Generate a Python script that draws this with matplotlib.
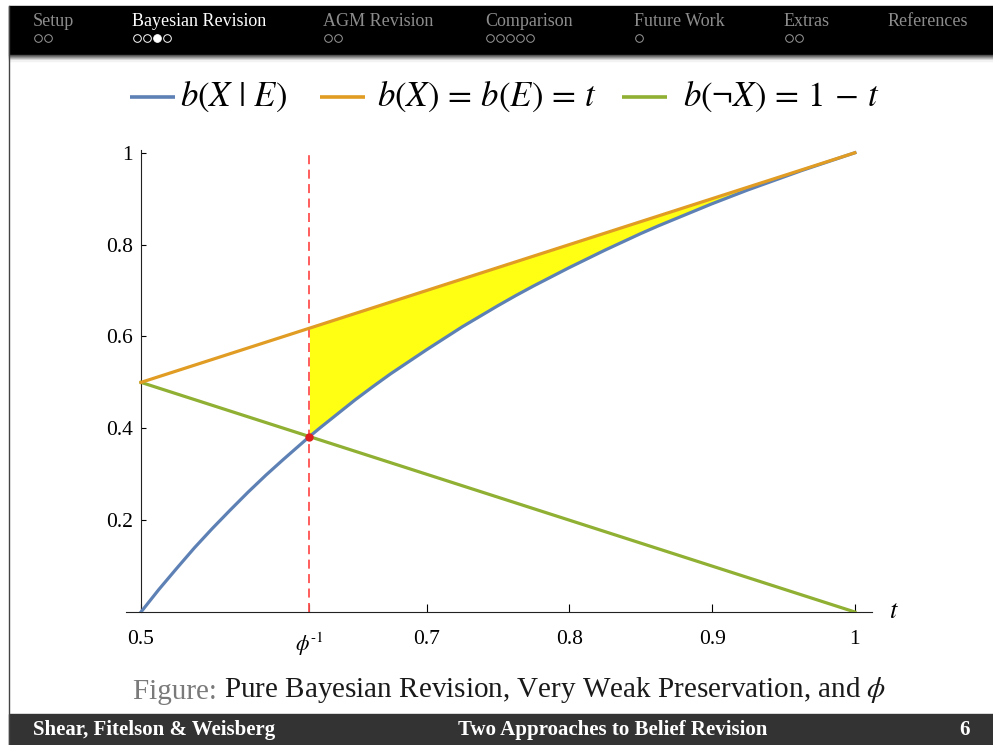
import numpy as np
import matplotlib.pyplot as plt
from matplotlib.patches import Rectangle

plt.rcParams['mathtext.fontset'] = 'stix'
plt.rcParams['font.family'] = ['Liberation Serif', 'DejaVu Serif']

# values
t_vals = [0.5, 0.5125, 0.525, 0.5375, 0.55, 0.5625, 0.575, 0.5875, 0.6, 0.618, 0.625,
          0.6375, 0.65, 0.6625, 0.675, 0.6875, 0.7, 0.7125, 0.725, 0.7375, 0.75, 0.7625,
          0.775, 0.7875, 0.8, 0.8125, 0.825, 0.8375, 0.85, 0.8625, 0.875, 0.8875, 0.9,
          0.9125, 0.925, 0.9375, 0.95, 0.9625, 0.975, 0.9875, 1.0]
b_x_given_e = [0.0, 0.049, 0.095, 0.14, 0.182, 0.222, 0.261, 0.298, 0.333, 0.382, 0.4,
               0.431, 0.462, 0.491, 0.519, 0.545, 0.571, 0.596, 0.621, 0.644, 0.667, 0.689,
               0.71, 0.73, 0.75, 0.769, 0.788, 0.806, 0.824, 0.841, 0.857, 0.873, 0.889,
               0.904, 0.919, 0.933, 0.947, 0.961, 0.974, 0.987, 1.0]
b_x = t_vals  # b(X) = b(E) = t
b_not_x = [0.5, 0.0]
line_t = [0.5, 1.0]
phi_inv = 0.618
phi_point = 0.382

x_ticks = [0.5, 0.618, 0.7, 0.8, 0.9, 1.0]
x_tick_labels = ['0.5', r'$\phi^{\text{-1}}$', '0.7', '0.8', '0.9', '1']
y_ticks = [0.2, 0.4, 0.6, 0.8, 1.0]
y_tick_labels = ['0.2', '0.4', '0.6', '0.8', '1']

legend_labels = [r'$b(X\ |\ E)$', r'$b(X)\,=\,b(E)\,=\,t$', r'$b(\neg X)\,=\,1\,-\,t$']
sections = ['Setup', 'Bayesian Revision', 'AGM Revision', 'Comparison',
            'Future Work', 'Extras', 'References']
section_dots = [2, 4, 2, 5, 1, 2, 0]

blue = '#5E81B5'
orange = '#E19C24'
green = '#8FB032'

W, H = 993, 745
fig = plt.figure(figsize=(W / 100, H / 100), dpi=100)

# slide decorations in pixel coords
deco = fig.add_axes([0, 0, 1, 1], zorder=0)
deco.set_xlim(0, W)
deco.set_ylim(H, 0)
deco.axis('off')
deco.add_patch(Rectangle((9, 6), W - 9, 49, color='black'))
for i, g in enumerate(np.linspace(0.3, 0.95, 6)):
    deco.add_patch(Rectangle((9, 55 + i), W - 9, 1, color=str(g)))
deco.add_patch(Rectangle((9, 714), W - 9, 31, color='#333333'))
deco.plot([8.5, 8.5], [6, H], color='#444444', lw=1)

sec_x = [33, 132, 323, 485, 634, 784, 888]
for i, (name, nd) in enumerate(zip(sections, section_dots)):
    active = name == 'Bayesian Revision'
    col = 'white' if active else '#8c8c8c'
    deco.text(sec_x[i], 21, name, color=col, fontsize=13, va='center', ha='left')
    for k in range(nd):
        filled = active and k == 2
        deco.plot(sec_x[i] + 5 + 10 * k, 38, 'o', ms=5.5, mfc='white' if filled else 'none',
                  mec='white' if active else '#9a9a9a', mew=0.7)

deco.text(33, 730, 'Shear, Fitelson & Weisberg', color='white', fontsize=15,
          fontweight='bold', va='center')
deco.text(613, 730, 'Two Approaches to Belief Revision', color='white', fontsize=15,
          fontweight='bold', va='center', ha='center')
deco.text(965, 730, '6', color='white', fontsize=15, fontweight='bold', va='center', ha='center')

cap = deco.text(133, 692, 'Figure: ', color='#7a7a7a', fontsize=21, va='center')
deco.annotate(r'Pure Bayesian Revision, Very Weak Preservation, and $\phi$',
              xycoords=cap, xy=(1, 0), va='bottom', ha='left', color='#1a1a1a', fontsize=21)

# legend laid out like the Mathematica one
leg_line_x = [130, 320, 622]
leg_text_x = [180, 377, 683]
for lx, tx, c, lab in zip(leg_line_x, leg_text_x, [blue, orange, green], legend_labels):
    deco.plot([lx, lx + 45], [97, 97], color=c, lw=2.6, solid_capstyle='butt')
    deco.text(tx, 97, lab, fontsize=25, va='center', ha='left')

# main plot
ax = fig.add_axes([126 / W, 1 - 612 / H, 746 / W, 462 / H], zorder=2)
ax.patch.set_alpha(0)

t_arr = np.array(t_vals)
mask = t_arr >= phi_inv
ax.fill_between(t_arr[mask], np.array(b_x_given_e)[mask], np.array(b_x)[mask],
                color='#FFFF14', lw=0, zorder=1)
ax.plot([phi_inv, phi_inv], [0, 1.0], color='#FF5050', lw=1.3, dashes=(5, 3), zorder=2)
ax.plot(line_t, b_not_x, color=green, lw=2.3, zorder=3)
ax.plot(t_vals, b_x_given_e, color=blue, lw=2.3, zorder=4)
ax.plot(line_t, [b_x[0], b_x[-1]], color=orange, lw=2.3, zorder=5)
ax.plot([phi_inv], [phi_point], 'o', color='#E02020', ms=5, zorder=6)

ax.set_xlim(0.4895, 1.012)
ax.set_ylim(0, 1.006)
for s in ['top', 'right']:
    ax.spines[s].set_visible(False)
ax.spines['left'].set_position(('data', 0.5))
ax.spines['left'].set_color('#222222')
ax.spines['bottom'].set_color('#222222')

ax.set_xticks(x_ticks)
ax.set_xticklabels(x_tick_labels)
ax.set_yticks(y_ticks)
ax.set_yticklabels(y_tick_labels)
ax.tick_params(axis='x', direction='in', length=5.5, width=0.8, pad=13, labelsize=15.5)
ax.tick_params(axis='y', direction='in', length=3.5, width=0.8, pad=6, labelsize=15.5)
ax.annotate('$t$', xy=(1, 0), xycoords='axes fraction', xytext=(12, 0),
            textcoords='offset points', fontsize=19, va='center', ha='left')

plt.savefig('out.png', dpi=100)
